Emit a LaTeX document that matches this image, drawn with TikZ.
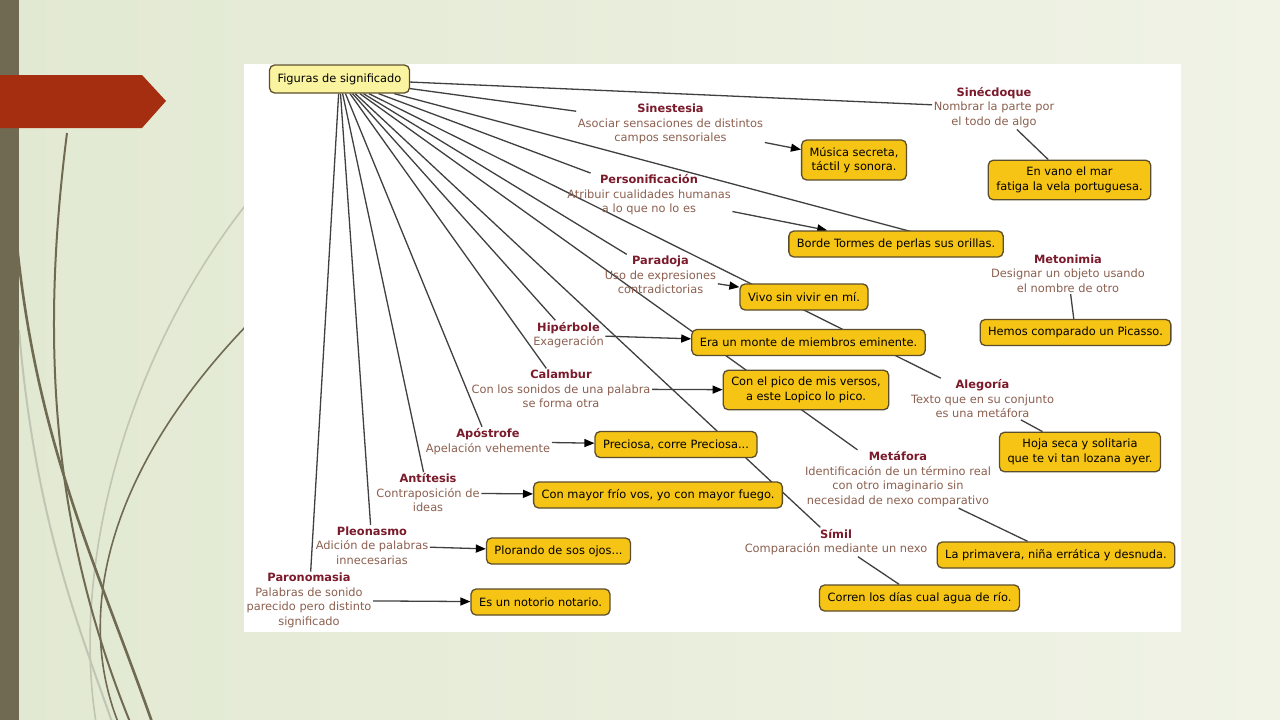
\documentclass[tikz,border=0pt]{standalone}
\usepackage{fontspec}
\setmainfont{DejaVu Sans}
\usetikzlibrary{arrows.meta,backgrounds}

\definecolor{titlered}{RGB}{122,26,42}
\definecolor{descbrown}{RGB}{140,96,80}
\definecolor{boxgold}{RGB}{246,196,20}
\definecolor{boxedge}{RGB}{92,78,44}
\definecolor{rootyellow}{RGB}{250,244,160}
\definecolor{linkgray}{RGB}{64,64,64}
\definecolor{barolive}{RGB}{112,106,82}
\definecolor{arrowred}{RGB}{166,46,16}
\definecolor{slidelight}{RGB}{240,243,230}
\definecolor{slidegreen}{RGB}{226,233,210}
\definecolor{stemgray}{RGB}{192,197,180}

\newcommand{\mapfont}{\fontsize{11.4}{14.5}\selectfont}
\newcommand{\figtitle}[1]{\textcolor{titlered}{\textbf{#1}}}

\begin{document}
\begin{tikzpicture}[x=1pt,y=-1pt,
    fig/.style={align=center,text=descbrown,inner sep=1.5pt,font=\mapfont},
    ex/.style={draw=boxedge,fill=boxgold,line width=1.3pt,rounded corners=5pt,align=center,
      inner xsep=8pt,inner ysep=7pt,minimum height=26pt,font=\mapfont},
    link/.style={draw=linkgray,line width=1.3pt},
    arr/.style={link,-{Triangle[length=10pt,width=8pt,color=black]}}]
    \useasboundingbox (0,0) rectangle (1280,720);

    \node[ex,fill=rootyellow,minimum height=28pt] (root) at (339.5,79) {Figuras de significado};

    % figuras
    \node[fig] (sinec) at (994,107.5) {\figtitle{Sinécdoque}\\Nombrar la parte por\\el todo de algo};
    \node[fig] (sines) at (670.5,124) {\figtitle{Sinestesia}\\Asociar sensaciones de distintos\\campos sensoriales};
    \node[fig] (perso) at (649,195) {\figtitle{Personificación}\\Atribuir cualidades humanas\\a lo que no lo es};
    \node[fig] (parad) at (660.5,275) {\figtitle{Paradoja}\\Uso de expresiones\\contradictorias};
    \node[fig] (meton) at (1068,273.5) {\figtitle{Metonimia}\\Designar un objeto usando\\el nombre de otro};
    \node[fig] (hiper) at (568.5,335) {\figtitle{Hipérbole}\\Exageración};
    \node[fig] (calam) at (561,389) {\figtitle{Calambur}\\Con los sonidos de una palabra\\se forma otra};
    \node[fig] (alego) at (982.5,399) {\figtitle{Alegoría}\\Texto que en su conjunto\\es una metáfora};
    \node[fig] (apost) at (488,441.5) {\figtitle{Apóstrofe}\\Apelación vehemente};
    \node[fig] (metaf) at (898,479) {\figtitle{Metáfora}\\Identificación de un término real\\con otro imaginario sin\\necesidad de nexo comparativo};
    \node[fig] (antit) at (428,493) {\figtitle{Antítesis}\\Contraposición de\\ideas};
    \node[fig] (pleon) at (372,545.5) {\figtitle{Pleonasmo}\\Adición de palabras\\innecesarias};
    \node[fig] (simil) at (836,542) {\figtitle{Símil}\\Comparación mediante un nexo};
    \node[fig] (paron) at (309,600.5) {\figtitle{Paronomasia}\\Palabras de sonido\\parecido pero distinto\\significado};

    % ejemplos
    \node[ex] (musica) at (854,160) {Música secreta,\\táctil y sonora.};
    \node[ex] (vano) at (1069.5,180) {En vano el mar\\fatiga la vela portuguesa.};
    \node[ex] (borde) at (896,244) {Borde Tormes de perlas sus orillas.};
    \node[ex] (vivo) at (804,297) {Vivo sin vivir en mí.};
    \node[ex] (hemos) at (1075.5,332.5) {Hemos comparado un Picasso.};
    \node[ex] (era) at (808.5,342.5) {Era un monte de miembros eminente.};
    \node[ex] (pico) at (806,390) {Con el pico de mis versos,\\a este Lopico lo pico.};
    \node[ex] (prec) at (676,444.5) {Preciosa, corre Preciosa...};
    \node[ex] (hoja) at (1080,452) {Hoja seca y solitaria\\que te vi tan lozana ayer.};
    \node[ex] (mayor) at (658,495) {Con mayor frío vos, yo con mayor fuego.};
    \node[ex] (plor) at (558.5,551) {Plorando de sos ojos...};
    \node[ex] (prim) at (1056,555) {La primavera, niña errática y desnuda.};
    \node[ex] (corren) at (919.5,598) {Corren los días cual agua de río.};
    \node[ex] (noto) at (540.5,602) {Es un notorio notario.};

    \begin{scope}[on background layer]
      % diapositiva
      \shade[left color=slidegreen,right color=slidelight] (0,0) rectangle (1280,720);
      \draw[stemgray,line width=1.6pt] (262,185) .. controls (130,340) and (70,560) .. (96,722);
      \draw[stemgray,line width=2pt] (19,330) .. controls (35,520) and (80,630) .. (112,722);
      \draw[barolive,line width=2.6pt] (14,210) .. controls (30,430) and (95,560) .. (152,722);
      \draw[barolive,line width=2pt] (67,133) .. controls (42,330) and (48,520) .. (130,722);
      \draw[barolive,line width=1.6pt] (262,310) .. controls (120,450) and (70,600) .. (118,722);
      \fill[barolive] (0,0) rectangle (19,720);
      \fill[arrowred] (0,75) -- (142,75) -- (166,101) -- (142,128) -- (0,128) -- cycle;
      \fill[white] (244,64) rectangle (1181,632);

      % enlaces
      \draw[link] (root) -- (sinec);
      \draw[link] (root) -- (sines);
      \draw[link] (root) -- (perso);
      \draw[link] (root) -- (meton);
      \draw[link] (root) -- (parad);
      \draw[link] (root) -- (alego);
      \draw[link] (root) -- (metaf);
      \draw[link] (root) -- (hiper);
      \draw[link] (root) -- (simil);
      \draw[link] (root) -- (calam);
      \draw[link] (root) -- (apost);
      \draw[link] (root) -- (antit);
      \draw[link] (root) -- (pleon);
      \draw[link] (root) -- (paron);

      \draw[arr] (sines) -- (musica);
      \draw[arr] (perso) -- (borde);
      \draw[arr] (parad) -- (vivo);
      \draw[arr] (hiper) -- (era);
      \draw[arr] (calam) -- (pico);
      \draw[arr] (apost) -- (prec);
      \draw[arr] (antit) -- (mayor);
      \draw[arr] (pleon) -- (plor);
      \draw[arr] (paron) -- (noto);
      \draw[link] (sinec) -- (vano);
      \draw[link] (meton) -- (hemos);
      \draw[link] (alego) -- (hoja);
      \draw[link] (metaf) -- (prim);
      \draw[link] (simil) -- (corren);
    \end{scope}
  \end{tikzpicture}
\end{document}
